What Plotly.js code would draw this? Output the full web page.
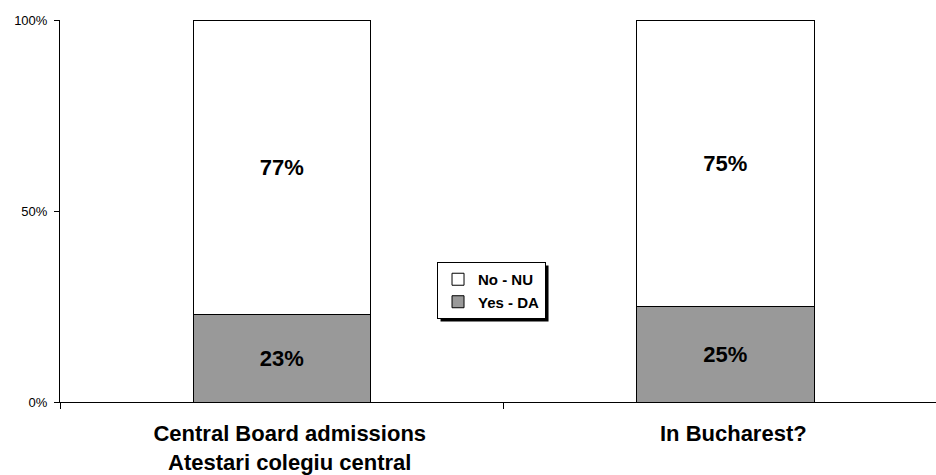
<!DOCTYPE html>
<html>
<head>
<meta charset="utf-8">
<script src="https://cdn.plot.ly/plotly-3.0.1.min.js"></script>
<style>html,body{margin:0;padding:0;background:#fff;}#chart{width:936px;height:475px;}</style>
</head>
<body>
<div id="chart"></div>
<script>
const categories = ["Central Board admissions<br>Atestari colegiu central", "In Bucharest?"];
const yesValues = [23, 25];
const noValues = [77, 75];
const seriesNames = ["Yes - DA", "No - NU"];
const yTicks = [0, 50, 100];
const yTickLabels = ["0%", "50%", "100%"];

const F = "Arial, 'Liberation Sans', sans-serif";
function pct(arr) { return arr.map(v => v + "%"); }
const barCommon = {
  type: "bar",
  x: categories,
  width: 0.4,
  texttemplate: "%{text}",
  textposition: "inside",
  insidetextanchor: "middle",
  textfont: {family: F, size: 22, color: "#000", weight: "bold"},
  hoverinfo: "none",
  cliponaxis: false
};
const data = [
  Object.assign({}, barCommon, {name: seriesNames[0], y: yesValues, text: pct(yesValues),
    marker: {color: "#999999", line: {color: "#000", width: 1}}}),
  Object.assign({}, barCommon, {name: seriesNames[1], y: noValues, text: pct(noValues),
    marker: {color: "#ffffff", line: {color: "#000", width: 1}}})
];

const layout = {
  width: 936, height: 475,
  margin: {l: 60, r: 0, t: 20, b: 73},
  paper_bgcolor: "#fff", plot_bgcolor: "#fff",
  barmode: "stack",
  showlegend: true,
  legend: {
    x: 0.4304, y: 0.3665, xanchor: "left", yanchor: "top",
    bgcolor: "#fff", bordercolor: "#000", borderwidth: 1,
    font: {family: F, size: 15, color: "#000", weight: "bold"},
    itemwidth: 30, tracegroupgap: 0,
    entrywidth: 100, entrywidthmode: "pixels"
  },
  xaxis: {
    type: "category",
    range: [-0.5, 1.475],
    showline: true, linecolor: "#000", linewidth: 1,
    ticks: "outside", tickson: "boundaries", ticklen: 6, tickcolor: "#000",
    showgrid: false, zeroline: false,
    tickfont: {family: F, size: 22, color: "#000", weight: "bold"},
    ticklabelshift: 8, ticklabelstandoff: 12
  },
  yaxis: {
    range: [0, 100],
    tickvals: yTicks, ticktext: yTickLabels,
    showline: true, linecolor: "#000", linewidth: 1,
    ticks: "outside", ticklen: 5, tickcolor: "#000",
    showgrid: false, zeroline: false,
    tickfont: {family: F, size: 13, color: "#000"},
    ticklabelstandoff: 4
  }
};
const gd = document.getElementById("chart");
Plotly.newPlot(gd, data, layout, {staticPlot: true}).then(function () {
  // drop shadow behind the legend box, placed from the rendered legend's own box
  const bg = gd.querySelector(".legend .bg");
  if (!bg) return;
  const r = bg.getBoundingClientRect();
  const c = gd.getBoundingClientRect();
  const sz = gd._fullLayout._size;
  const off = 3;
  const toX = px => (px - c.left - sz.l) / sz.w;
  const toY = py => 1 - (py - c.top - sz.t) / sz.h;
  return Plotly.relayout(gd, {shapes: [{
    type: "rect", xref: "paper", yref: "paper", layer: "above",
    x0: toX(r.left + off), x1: toX(r.right + off),
    y0: toY(r.top + off), y1: toY(r.bottom + off),
    fillcolor: "#000", line: {width: 0}
  }]});
});
</script>
</body>
</html>
